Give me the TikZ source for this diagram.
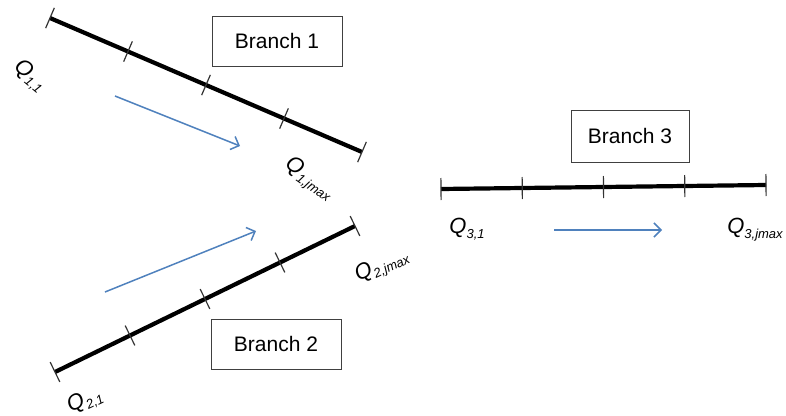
\documentclass[tikz,border=0pt]{standalone}
\usepackage{fontspec}
\setmainfont{Liberation Sans}
\usetikzlibrary{arrows.meta}
\definecolor{flowblue}{RGB}{79,129,189}
\tikzset{
  branchline/.style={line width=4.2pt, black},
  tickmark/.style={draw=black!80, line width=1.2pt, shape=rectangle,
    minimum height=22pt, minimum width=0pt, inner sep=0pt, sloped},
  flow/.style={flowblue, line width=1.5pt, -{Straight Barb[length=7pt,width=14pt,line width=1.5pt]}},
  namebox/.style={draw=black!75, line width=1pt, fill=white, minimum width=130pt,
    minimum height=50pt, font=\fontsize{21}{24}\selectfont},
  qlabel/.style={font=\fontsize{22}{24}\selectfont\itshape, inner sep=0pt},
}
% subscript set as smaller italic text, dropped below the baseline
\newcommand{\qsub}[1]{\raisebox{-5pt}{\fontsize{13}{14}\selectfont\itshape #1}}
\begin{document}
\begin{tikzpicture}[x=1pt, y=-1pt]
  \useasboundingbox (0,0) rectangle (786,415);

  % Branch 1
  \coordinate (b1s) at (50,18);
  \coordinate (b1e) at (362,152);
  \draw[branchline] (b1s) -- (b1e);
  \foreach \t in {0,0.25,0.5,0.75,1}
    \path (b1s) -- (b1e) node[tickmark, pos=\t] {};
  \node[namebox] (box1) at (277,41) {Branch 1};
  \coordinate (f1s) at (115,96);
  \coordinate (f1e) at (240,146);
  \draw[flow] (f1s) -- (f1e);
  \node[qlabel, rotate=-40] (q11) at (30,76) {Q\qsub{1,1}};
  \node[qlabel, rotate=-35] (q1m) at (309,179) {Q\qsub{1,jmax}};

  % Branch 2
  \coordinate (b2s) at (55,372);
  \coordinate (b2e) at (355,226);
  \draw[branchline] (b2s) -- (b2e);
  \foreach \t in {0,0.25,0.5,0.75,1}
    \path (b2s) -- (b2e) node[tickmark, pos=\t] {};
  \node[namebox] (box2) at (276,344) {Branch 2};
  \coordinate (f2s) at (105,292);
  \coordinate (f2e) at (256,231);
  \draw[flow] (f2s) -- (f2e);
  \node[qlabel, rotate=25] (q2m) at (382,266) {Q\qsub{2,jmax}};
  \node[qlabel, rotate=25] (q21) at (85,401) {Q\qsub{2,1}};

  % Branch 3
  \coordinate (b3s) at (441,189);
  \coordinate (b3e) at (766,185);
  \draw[branchline] (b3s) -- (b3e);
  \foreach \t in {0,0.25,0.5,0.75,1}
    \path (b3s) -- (b3e) node[tickmark, pos=\t] {};
  \node[namebox, minimum width=118pt, minimum height=52pt] (box3) at (630,136) {Branch 3};
  \coordinate (f3s) at (554,230);
  \coordinate (f3e) at (662,230);
  \draw[flow] (f3s) -- (f3e);
  \node[qlabel] (q31) at (467,229) {Q\qsub{3,1}};
  \node[qlabel] (q3m) at (755,230) {Q\qsub{3,jmax}};
\end{tikzpicture}
\end{document}
